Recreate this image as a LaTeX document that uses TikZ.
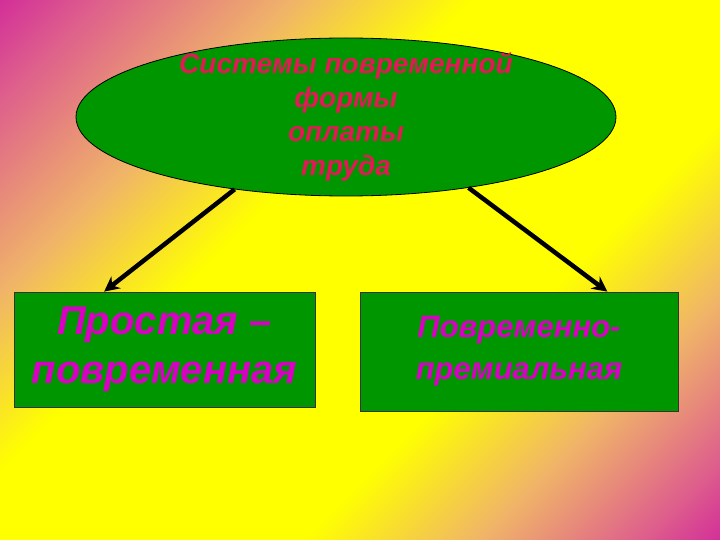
\documentclass[tikz,border=0pt]{standalone}
\usepackage{fontspec}
\setmainfont{Liberation Sans}
\usepackage{xcolor}
\usepackage{tikz}
\usetikzlibrary{shapes.geometric, positioning, calc, arrows.meta}
\definecolor{SlideGreen}{RGB}{0,150,0}
\definecolor{SlideCrimson}{RGB}{225,25,85}
\definecolor{SlideMagenta}{RGB}{215,0,195}
\definecolor{BgMag}{RGB}{200,0,165}
\definecolor{BgPink}{RGB}{222,95,140}
\definecolor{BgPeach}{RGB}{240,180,105}
\definecolor{BgYellow}{RGB}{255,255,0}
\pgfdeclarehorizontalshading{bgdiag}{100bp}{color(0bp)=(BgMag); color(9bp)=(BgMag);
    color(20bp)=(BgPink); color(31bp)=(BgPeach); color(41bp)=(BgYellow);
    color(62bp)=(BgYellow); color(72bp)=(BgPeach); color(81bp)=(BgPink);
    color(90bp)=(BgMag); color(100bp)=(BgMag)}
\tikzset{
    topnode/.style={
        ellipse, draw=black, line width=0.8pt, fill=SlideGreen,
        minimum width=540pt, minimum height=158pt, inner xsep=0pt, inner ysep=-15pt,
        align=center, text=SlideCrimson,
        font=\fontsize{28}{34}\selectfont\bfseries\itshape
    },
    kindnode/.style={
        rectangle, draw=black!80, line width=0.8pt, fill=SlideGreen,
        inner sep=0pt, align=center, text=SlideMagenta
    },
    flowptr/.style={
        -{Stealth[length=15pt, width=15pt]}, line width=4.5pt, black
    }
}
\begin{document}
\begin{tikzpicture}[x=1pt, y=-1pt]
    % 1. NỀN
    \useasboundingbox (0,0) rectangle (720,540);
    \shade[shading=bgdiag, shading angle=-45] (0,0) rectangle (720,540);

    % 2. CÁC NODE
    \node[topnode] (sys) at (346,117) {Системы повременной\\формы\\оплаты\\ труда};
    \node[kindnode, minimum width=301pt, minimum height=115pt,
          font=\fontsize{40}{49}\selectfont\bfseries\itshape] (simple) at (164.5,349.5)
          {Простая –\\повременная};
    \node[kindnode, minimum width=318pt, minimum height=119pt,
          font=\fontsize{31}{42}\selectfont\bfseries\itshape] (bonus) at (519,351.5)
          {Повременно-\\премиальная};

    % 3. MŨI TÊN
    \draw[flowptr] (sys.213) -- ($(simple.north west)!0.3!(simple.north east)$);
    \draw[flowptr] (sys.330) -- ($(bonus.north west)!0.777!(bonus.north east)$);
\end{tikzpicture}
\end{document}
